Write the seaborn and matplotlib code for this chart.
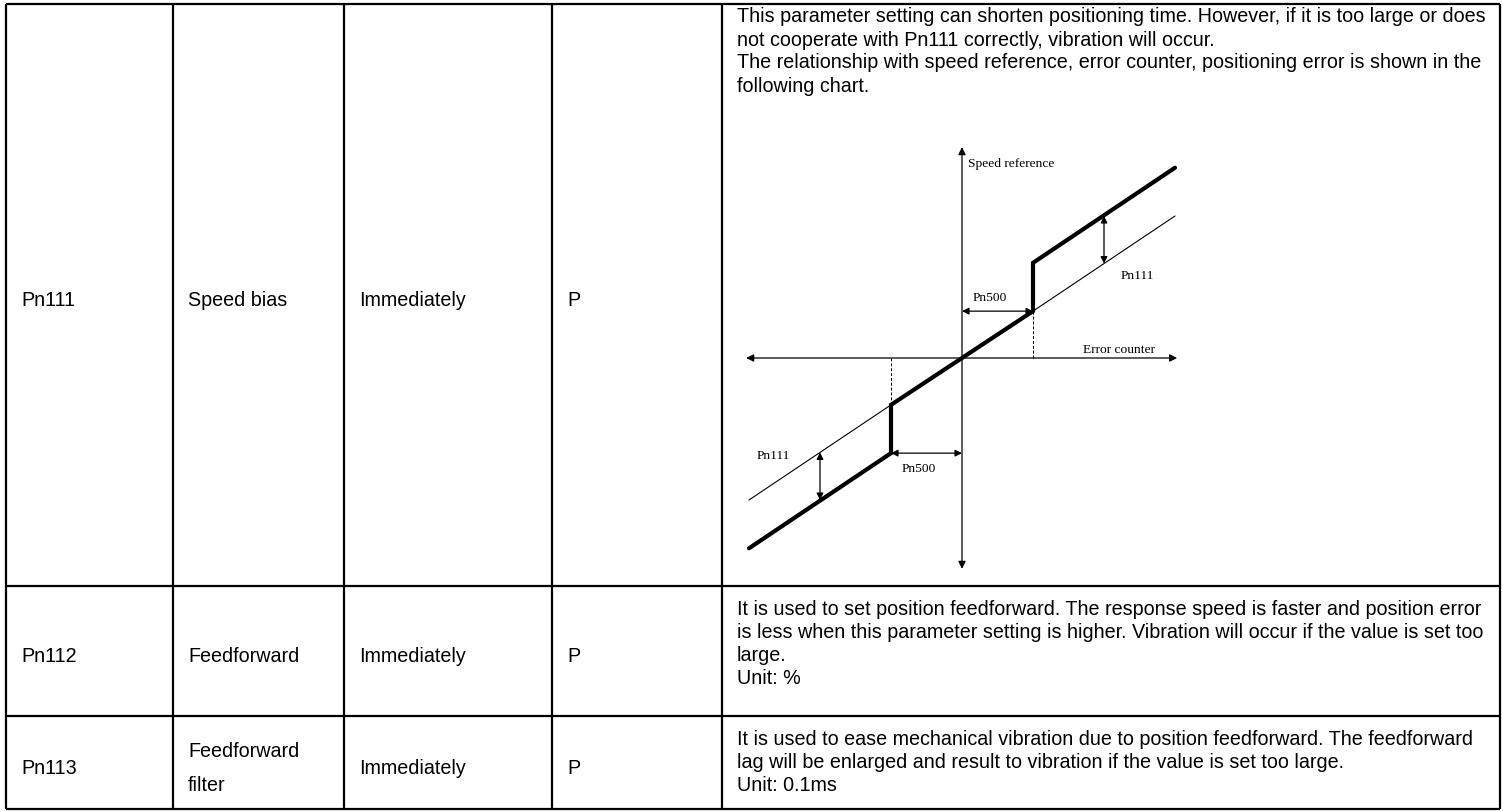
import numpy as np
import pandas as pd
import matplotlib
matplotlib.use("Agg")
import matplotlib.pyplot as plt
import seaborn as sns

# table content
PARAMS   = ["Pn111", "Pn112", "Pn113"]
NAMES    = ["Speed bias", "Feedforward", "Feedforward\nfilter"]
EFFECT   = ["Immediately", "Immediately", "Immediately"]
CATEGORY = ["P", "P", "P"]
DESCR = [
    ["This parameter setting can shorten positioning time. However, if it is too large or does",
     "not cooperate with Pn111 correctly, vibration will occur.",
     "The relationship with speed reference, error counter, positioning error is shown in the",
     "following chart."],
    ["It is used to set position feedforward. The response speed is faster and position error",
     "is less when this parameter setting is higher. Vibration will occur if the value is set too",
     "large.",
     "Unit: %"],
    ["It is used to ease mechanical vibration due to position feedforward. The feedforward",
     "lag will be enlarged and result to vibration if the value is set too large.",
     "Unit: 0.1ms"],
]

# diagram values (error counter vs speed reference, Pn500 = 1 unit)
thick_x = [-3.0, -1.0, -1.0, 1.0, 1.0, 3.0]
thick_y = [-2.68, -1.34, -0.66, 0.66, 1.34, 2.68]
thin_r_x = [1.0, 3.0]
thin_r_y = [0.66, 2.0]
thin_l_x = [-3.0, -1.0]
thin_l_y = [-2.0, -0.66]
PN500 = 1.0
BIAS_X = 2.0
AXIS_X = (-3.04, 3.03)
AXIS_Y = (-2.97, 2.97)

# layout (pixels)
W, H = 1503, 812
COL_EDGES = [6, 173, 344, 552, 722, 1500]
ROW_EDGES = [5, 587, 717, 810]
FIRST_LINE = [17, 610, 740]
LINE_STEP = 23
PAD = 15
ORIGIN = (962, 359)
UNIT = 71.0

sns.set_theme(style="white")
plt.rcParams["font.family"] = ["Liberation Sans", "DejaVu Sans"]

fig = plt.figure(figsize=(W / 100, H / 100), dpi=100)
ax = fig.add_axes([0, 0, 1, 1])
ax.set_xlim(0, W)
ax.set_ylim(H, 0)
ax.axis("off")

ax.hlines(ROW_EDGES, COL_EDGES[0], COL_EDGES[-1], color="black", lw=1.6)
ax.vlines(COL_EDGES, ROW_EDGES[0], ROW_EDGES[-1], color="black", lw=1.6)

FS = 14.2
for i in range(len(PARAMS)):
    yc = (ROW_EDGES[i] + ROW_EDGES[i + 1]) / 2 + 5
    for j, txt in enumerate([PARAMS[i], NAMES[i], EFFECT[i], CATEGORY[i]]):
        ax.text(COL_EDGES[j] + PAD, yc, txt, fontsize=FS, va="center", ha="left",
                linespacing=2.0, color="black")
    for k, line in enumerate(DESCR[i]):
        ax.text(COL_EDGES[4] + PAD, FIRST_LINE[i] + k * LINE_STEP, line,
                fontsize=FS, va="center", ha="left", color="black")

# diagram inset
px_l, px_r, px_t, px_b = 740, 1195, 135, 580
dax = fig.add_axes([px_l / W, 1 - px_b / H, (px_r - px_l) / W, (px_b - px_t) / H])
dax.set_xlim((px_l - ORIGIN[0]) / UNIT, (px_r - ORIGIN[0]) / UNIT)
dax.set_ylim((ORIGIN[1] - px_b) / UNIT, (ORIGIN[1] - px_t) / UNIT)
dax.axis("off")

arrow_kw = dict(arrowstyle="<|-|>", color="black", lw=0.9, mutation_scale=11,
                shrinkA=0, shrinkB=0)
dax.annotate("", xy=(AXIS_X[1], 0), xytext=(AXIS_X[0], 0), arrowprops=arrow_kw)
dax.annotate("", xy=(0, AXIS_Y[1]), xytext=(0, AXIS_Y[0]), arrowprops=arrow_kw)

sns.lineplot(x=thin_r_x, y=thin_r_y, ax=dax, color="black", lw=0.8, sort=False, estimator=None)
sns.lineplot(x=thin_l_x, y=thin_l_y, ax=dax, color="black", lw=0.8, sort=False, estimator=None)
sns.lineplot(x=thick_x, y=thick_y, ax=dax, color="black", lw=3.0, sort=False,
             estimator=None, solid_capstyle="round", solid_joinstyle="miter")

dax.plot([PN500, PN500], [0, thin_r_y[0]], color="black", lw=0.7, ls=(0, (3, 2)))
dax.plot([-PN500, -PN500], [0, thin_l_y[1]], color="black", lw=0.7, ls=(0, (3, 2)))

small = dict(arrowstyle="<|-|>", color="black", lw=0.9, mutation_scale=10,
             shrinkA=0, shrinkB=0)
dax.annotate("", xy=(BIAS_X, 2.0), xytext=(BIAS_X, 1.33), arrowprops=small)
dax.annotate("", xy=(-BIAS_X, -1.33), xytext=(-BIAS_X, -2.0), arrowprops=small)
dax.annotate("", xy=(PN500, 0.66), xytext=(0, 0.66), arrowprops=small)
dax.annotate("", xy=(0, -1.34), xytext=(-PN500, -1.34), arrowprops=small)

serif = dict(family=["Liberation Serif", "DejaVu Serif"], fontsize=9.7, color="black")
dax.text(0.08, 2.75, "Speed reference", ha="left", va="center", **serif)
dax.text(1.70, 0.13, "Error counter", ha="left", va="center", **serif)
dax.text(2.24, 1.17, "Pn111", ha="left", va="center", **serif)
dax.text(0.15, 0.86, "Pn500", ha="left", va="center", **serif)
dax.text(-2.89, -1.37, "Pn111", ha="left", va="center", **serif)
dax.text(-0.85, -1.55, "Pn500", ha="left", va="center", **serif)

fig.savefig("out.png", dpi=100, facecolor="white")
